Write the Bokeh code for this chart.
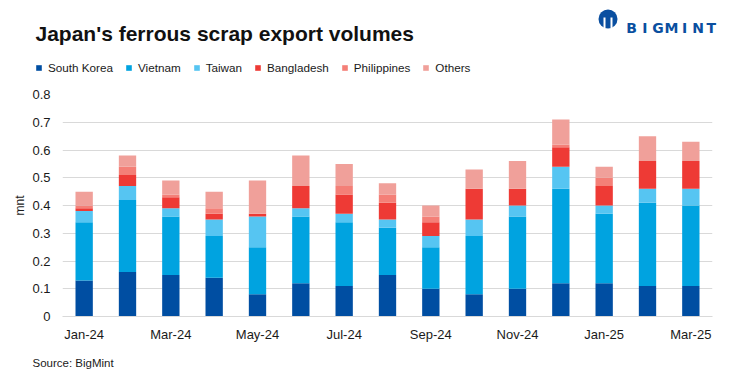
from bokeh.plotting import figure
from bokeh.layouts import column
from bokeh.models import (Range1d, Legend, LegendItem, FixedTicker, Label,
                          CustomJSTickFormatter, ColumnDataSource)
from bokeh.embed import file_html
from bokeh.resources import INLINE

months = ["Jan-24", "Feb-24", "Mar-24", "Apr-24", "May-24", "Jun-24", "Jul-24", "Aug-24",
          "Sep-24", "Oct-24", "Nov-24", "Dec-24", "Jan-25", "Feb-25", "Mar-25"]
shown_ticks = ["Jan-24", "Mar-24", "May-24", "Jul-24", "Sep-24", "Nov-24", "Jan-25", "Mar-25"]

south_korea = [0.13, 0.16, 0.15, 0.14, 0.08, 0.12, 0.11, 0.15, 0.10, 0.08, 0.10, 0.12, 0.12, 0.11, 0.11]
vietnam     = [0.21, 0.26, 0.21, 0.15, 0.17, 0.24, 0.23, 0.17, 0.15, 0.21, 0.26, 0.34, 0.25, 0.30, 0.29]
taiwan      = [0.04, 0.05, 0.03, 0.06, 0.11, 0.03, 0.03, 0.03, 0.04, 0.06, 0.04, 0.08, 0.03, 0.05, 0.06]
bangladesh  = [0.01, 0.04, 0.04, 0.02, 0.01, 0.08, 0.07, 0.06, 0.05, 0.11, 0.06, 0.07, 0.07, 0.10, 0.10]
philippines = [0.01, 0.03, 0.01, 0.02, 0.00, 0.00, 0.03, 0.03, 0.02, 0.00, 0.00, 0.01, 0.03, 0.00, 0.00]
others      = [0.05, 0.04, 0.05, 0.06, 0.12, 0.11, 0.08, 0.04, 0.04, 0.07, 0.10, 0.09, 0.04, 0.09, 0.07]

series_names = ["South Korea", "Vietnam", "Taiwan", "Bangladesh", "Philippines", "Others"]
series_values = [south_korea, vietnam, taiwan, bangladesh, philippines, others]
colors = ["#004EA2", "#00A3E0", "#56C5F2", "#EE3A35", "#F47F77", "#F0A09A"]
y_ticks = [0, 0.1, 0.2, 0.3, 0.4, 0.5, 0.6, 0.7, 0.8]

TITLE = "Japan's ferrous scrap export volumes"
SOURCE = "Source: BigMint"
BRAND = "BIGMINT"

FONT = "Liberation Sans"
TXT = "#1a1a1a"
LOGO_BLUE = "#0A4FA0"
W = 739
H_HEAD, H_MAIN, H_FOOT = 84, 261, 30


def no_align(f):
    try:
        f.frame_align = False
    except Exception:
        pass


def blank_fig(h):
    f = figure(width=W, height=h, x_range=Range1d(0, W), y_range=Range1d(0, h),
               output_backend="svg", toolbar_location=None, title=None,
               x_axis_location=None, y_axis_location=None, min_border=0)
    f.outline_line_color = None
    f.grid.visible = False
    no_align(f)
    return f


# ---------------- header: title, logo, legend ----------------
head = blank_fig(H_HEAD)
head.add_layout(Label(x=35, y=51.5, x_units="screen", y_units="screen", text=TITLE,
                      text_font=FONT, text_font_style="bold", text_font_size="21px",
                      text_color="#111111", text_baseline="alphabetic"))

# logo (decoration)
head.circle(x=[607.5], y=[65.5], radius=9.5, fill_color=LOGO_BLUE, line_color=None)
head.segment(x0=[604, 611], y0=[56, 56], x1=[604, 611], y1=[67, 67],
             line_color="white", line_width=2)
for i, ch in enumerate(BRAND):
    head.add_layout(Label(x=631 + 13.3 * i, y=57, x_units="screen", y_units="screen",
                          text=ch, text_font="DejaVu Sans", text_font_style="bold",
                          text_font_size="14px", text_color=LOGO_BLUE, text_align="center",
                          text_baseline="alphabetic"))

# legend swatches (zero-height proxies carrying the series colours)
proxies = [head.vbar(x=[0], top=[0], bottom=[0], width=0, fill_color=c, line_color=None)
           for c in colors]
legend = Legend(items=[LegendItem(label=n, renderers=[r]) for n, r in zip(series_names, proxies)],
                orientation="horizontal", location=(35, 10.3),
                glyph_width=7, glyph_height=7, label_height=7, label_width=10,
                label_standoff=6, spacing=12, padding=0, margin=0,
                border_line_color=None, background_fill_alpha=0,
                label_text_font=FONT, label_text_font_size="11.7px", label_text_color=TXT)
head.add_layout(legend, "center")

# ---------------- main chart ----------------
xs = list(range(len(months)))
data = {"x": xs, "month": months}
keys = []
for i, vals in enumerate(series_values):
    k = "s%d" % i
    data[k] = vals
    keys.append(k)
source = ColumnDataSource(data)

p = figure(width=W, height=H_MAIN, x_range=Range1d(-0.5, len(months) - 0.5),
           y_range=Range1d(0, 0.8), output_backend="svg", toolbar_location=None, title=None,
           min_border_left=62, min_border_right=27, min_border_top=10, min_border_bottom=29)
p.outline_line_color = None
no_align(p)

p.vbar_stack(keys, x="x", width=0.4, color=colors, line_color=None, source=source)

p.yaxis.ticker = FixedTicker(ticks=y_ticks)
p.yaxis.formatter = CustomJSTickFormatter(code="return tick == 0 ? '0' : tick.toFixed(1);")
p.yaxis.axis_line_color = None
p.yaxis.major_tick_line_color = None
p.yaxis.minor_tick_line_color = None
p.yaxis.major_label_standoff = 6
p.yaxis.axis_label = "mnt"
p.yaxis.axis_label_standoff = 2
p.yaxis.axis_label_text_font = FONT
p.yaxis.axis_label_text_font_style = "normal"
p.yaxis.axis_label_text_font_size = "12px"
p.yaxis.axis_label_text_color = TXT

p.xaxis.ticker = FixedTicker(ticks=[xs[months.index(m)] for m in shown_ticks])
p.xaxis.major_label_overrides = {xs[i]: m for i, m in enumerate(months)}
p.xaxis.axis_line_color = "#d9d9d9"
p.xaxis.major_tick_line_color = None
p.xaxis.minor_tick_line_color = None
p.xaxis.major_label_standoff = 4

for ax in (p.xaxis, p.yaxis):
    ax.major_label_text_font = FONT
    ax.major_label_text_font_size = "13px"
    ax.major_label_text_color = TXT

p.xgrid.grid_line_color = None
p.ygrid.grid_line_color = "#d9d9d9"
p.ygrid.grid_line_width = 1
p.ygrid.ticker = FixedTicker(ticks=y_ticks)

# ---------------- footer: source ----------------
foot = blank_fig(H_FOOT)
foot.add_layout(Label(x=32, y=13, x_units="screen", y_units="screen", text=SOURCE,
                      text_font=FONT, text_font_size="11.5px", text_color=TXT,
                      text_baseline="middle"))

layout = column(head, p, foot, spacing=0)
open("out.html", "w").write(file_html(layout, INLINE))
